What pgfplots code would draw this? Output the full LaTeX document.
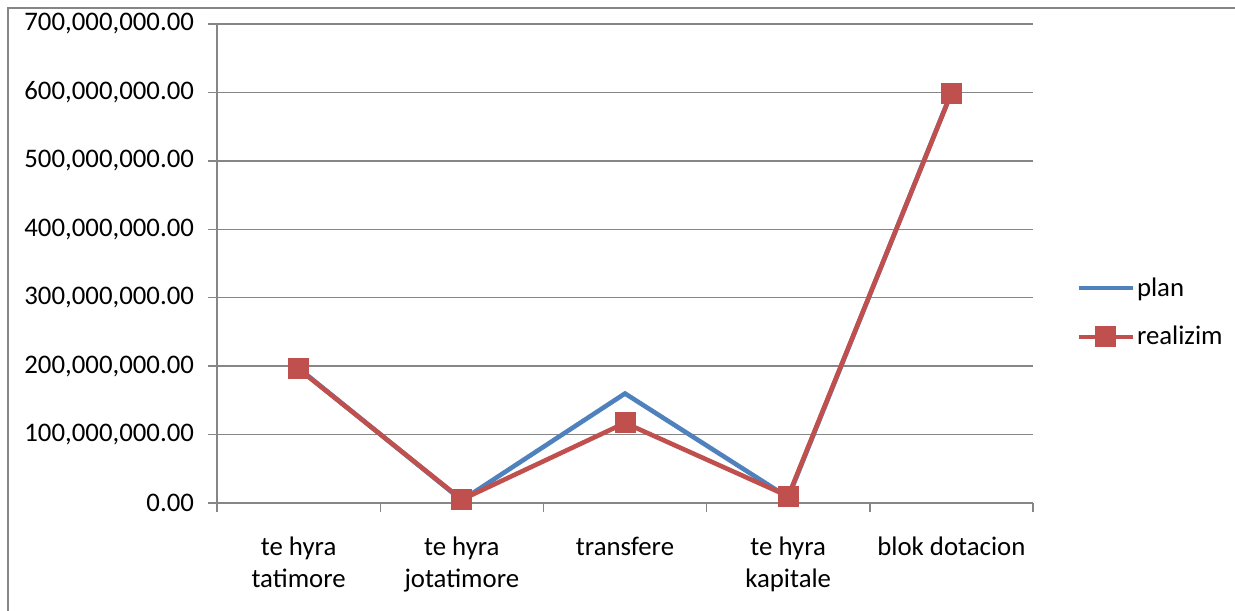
\documentclass[border=0pt]{standalone}
\usepackage{pgfplots}
\pgfplotsset{compat=1.18}
\usepackage{fontspec}
\setmainfont{Carlito}
\definecolor{planblue}{HTML}{4F81BD}
\definecolor{realred}{HTML}{C0504D}
\definecolor{gridgray}{HTML}{868686}
\begin{document}
\begin{tikzpicture}[x=0.5pt,y=0.5pt]
\useasboundingbox (0,0) rectangle (1235,610);
\draw[gridgray, line width=0.9pt] (8,-5) rectangle (1240,602);
\begin{axis}[
  at={(108.5pt,53.5pt)}, anchor=south west,
  scale only axis, width=408pt, height=239.5pt,
  xmin=-0.5, xmax=4.5, ymin=0, ymax=700000000,
  axis x line*=bottom, axis y line*=left,
  axis line style={gridgray, line width=0.7pt, -},
  xtick={0,1,2,3,4},
  xticklabels={{te hyra\\tatimore},{te hyra\\jotatimore},{transfere},{te hyra\\kapitale},{blok dotacion}},
  major x tick style={draw=none},
  minor xtick={-0.5,0.5,1.5,2.5,3.5,4.5},
  minor x tick style={gridgray, line width=0.7pt},
  minor tick length=4.5pt,
  ytick={0,100000000,...,700000000},
  major tick length=4.5pt,
  y tick style={gridgray, line width=0.7pt},
  tick align=outside,
  ymajorgrids, grid style={gridgray, line width=0.7pt},
  scaled y ticks=false,
  /pgf/number format/fixed, /pgf/number format/fixed zerofill,
  /pgf/number format/precision=2, /pgf/number format/1000 sep={,},
  /pgf/number format/assume math mode=true,
  tick label style={font=\fontsize{13.4}{16}\selectfont, text=black},
  xticklabel style={align=center, yshift=-9pt},
  yticklabel style={xshift=-3.5pt},
  legend style={at={(1.0527,0.3977)}, anchor=west, draw=none, fill=none,
    font=\fontsize{13.4}{16}\selectfont, row sep=11.5pt, inner sep=0pt,
    nodes={inner sep=1pt}},
  legend cell align=left,
  legend image code/.code={\draw[#1, mark repeat=2, mark phase=2] plot coordinates {(0pt,0pt) (13.5pt,0pt) (27pt,0pt)};},
  clip=false,
]
\addplot[planblue, line width=2.3pt, no markers] coordinates {
  (0,197000000) (1,4000000) (2,160000000) (3,8000000) (4,600000000)};
\addlegendentry{plan}
\addplot[realred, line width=2.3pt, mark=square*, mark size=5pt, mark options={fill=realred, draw=realred, line width=0.5pt}] coordinates {
  (0,196000000) (1,5000000) (2,117000000) (3,10000000) (4,599000000)};
\addlegendentry{realizim}
\end{axis}
\end{tikzpicture}
\end{document}
